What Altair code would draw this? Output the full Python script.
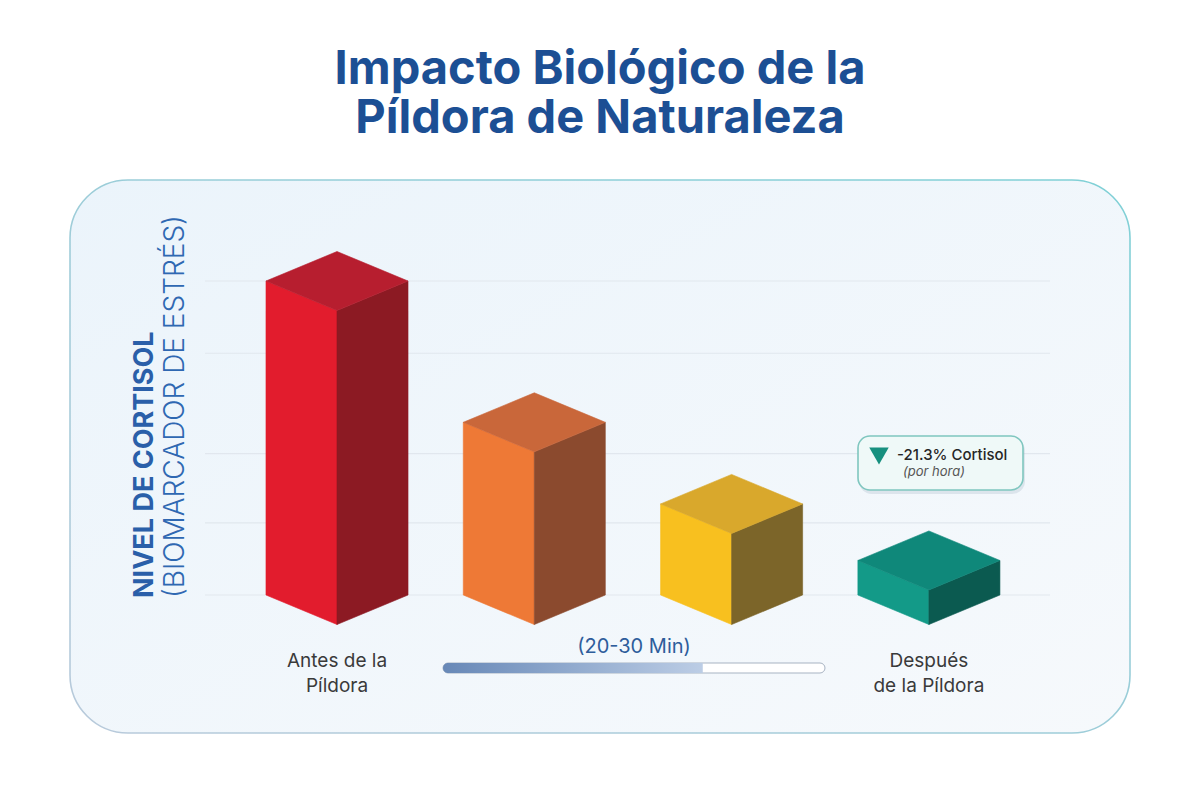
import altair as alt
import pandas as pd

# --- data -------------------------------------------------------------
stages = ["Antes de la Píldora", "10 min", "20 min", "Después de la Píldora"]
cortisol = [100, 55, 29, 11]                     # relative cortisol level
stage_labels = ["Antes de la\nPíldora", "", "", "Después\nde la Píldora"]
front_colors = ["#e21c2d", "#ee7936", "#f8c01f", "#139a88"]
top_colors = ["#b71e2f", "#c9673a", "#d9a82c", "#0f887a"]
side_colors = ["#8c1a23", "#8b4a2e", "#7c6529", "#0b5a50"]
grid_levels = [0, 23, 45, 77, 100]
change_pct = -21.3
window_label = "(20-30 Min)"
progress = 0.68

# --- layout -----------------------------------------------------------
W, H = 1060, 553                   # the rounded panel is the plot area
X_DOMAIN = [-1.3533, 4.0193]       # stage index
Y_DOMAIN = [-43.95, 132.17]        # cortisol units
HALF = 0.36                        # half width of a box (stage units)
DEPTH = 9.4                        # drop of the isometric top (cortisol units)

FONT = "Inter"

xs = alt.Scale(domain=X_DOMAIN, nice=False, zero=False)
ys = alt.Scale(domain=Y_DOMAIN, nice=False, zero=False)

# three faces per box: front, right side and top
rows = []
for i, (v, fc, tc, sc) in enumerate(zip(cortisol, front_colors, top_colors, side_colors)):
    rows += [
        dict(face=f"{i}a", x=i - HALF, top=v, bottom=0, color=fc),
        dict(face=f"{i}a", x=i, top=v - DEPTH, bottom=-DEPTH, color=fc),
        dict(face=f"{i}b", x=i, top=v - DEPTH, bottom=-DEPTH, color=sc),
        dict(face=f"{i}b", x=i + HALF, top=v, bottom=0, color=sc),
        dict(face=f"{i}c", x=i - HALF, top=v, bottom=v, color=tc),
        dict(face=f"{i}c", x=i, top=v + DEPTH, bottom=v - DEPTH, color=tc),
        dict(face=f"{i}c", x=i + HALF, top=v, bottom=v, color=tc),
    ]
faces = pd.DataFrame(rows)
grid = pd.DataFrame({"level": grid_levels})
labels = pd.DataFrame({"x": list(range(len(stages))), "label": stage_labels})
one = pd.DataFrame({"k": [0]})

# plain white ground under the rounded panel
ground = alt.Chart(one).mark_rect(fill="#ffffff").encode(
    x=alt.value(-3), x2=alt.value(W + 3), y=alt.value(-3), y2=alt.value(H + 3))

# rounded panel: a soft fill and a teal outline
panel_fill = alt.Chart(one).mark_rect(
    cornerRadius=58,
    fill=alt.Gradient(
        gradient="linear", x1=0, y1=0, x2=1, y2=1,
        stops=[alt.GradientStop(color="#ebf4fb", offset=0),
               alt.GradientStop(color="#f6f9fc", offset=1)],
    ),
).encode(x=alt.value(0), x2=alt.value(W), y=alt.value(0), y2=alt.value(H))
panel_edge = alt.Chart(one).mark_rect(
    cornerRadius=58, fill="transparent", strokeWidth=1.6,
    stroke=alt.Gradient(
        gradient="linear", x1=1, y1=0, x2=0, y2=1,
        stops=[alt.GradientStop(color="#7fd0d6", offset=0),
               alt.GradientStop(color="#b9cadb", offset=1)],
    ),
).encode(x=alt.value(0), x2=alt.value(W), y=alt.value(0), y2=alt.value(H))

gridlines = alt.Chart(grid).mark_rule(color="#e1e7ee", strokeWidth=1.2).encode(
    y=alt.Y("level:Q", scale=ys, axis=None),
    x=alt.value(135), x2=alt.value(980),
)

boxes = alt.Chart(faces).mark_area(orient="vertical", strokeWidth=0.6).encode(
    x=alt.X("x:Q", scale=xs, axis=None),
    y=alt.Y("top:Q", scale=ys, axis=None, stack=None),
    y2="bottom:Q",
    color=alt.Color("color:N", scale=None),
    stroke=alt.Stroke("color:N", scale=None),
    detail="face:N",
)

stage_text = alt.Chart(labels).mark_text(
    font=FONT, fontSize=19, color="#3a3a3a", lineBreak="\n", lineHeight=25,
    baseline="top", align="center",
).encode(x=alt.X("x:Q", scale=xs, axis=None), y=alt.value(472), text="label:N")

y_title_bold = alt.Chart(one).mark_text(
    text="NIVEL DE CORTISOL", font=FONT, fontSize=27, fontWeight="bold",
    color="#2a5fa9", angle=270, align="left", baseline="middle",
).encode(x=alt.value(75), y=alt.value(418))

y_title_light = alt.Chart(one).mark_text(
    text="(BIOMARCADOR DE ESTRÉS)", font=FONT, fontSize=28, fontWeight=300,
    color="#2f68b2", angle=270, align="left", baseline="middle",
).encode(x=alt.value(106), y=alt.value(418))

# time window bar
bar_x0, bar_x1 = 373, 755
track = alt.Chart(one).mark_rect(
    cornerRadius=5, fill="#ffffff", stroke="#a7b3c2", strokeWidth=1,
).encode(x=alt.value(bar_x0), x2=alt.value(bar_x1), y=alt.value(483), y2=alt.value(493))
fill_bar = alt.Chart(one).mark_rect(
    cornerRadiusTopLeft=5, cornerRadiusBottomLeft=5,
    fill=alt.Gradient(
        gradient="linear", x1=0, y1=0, x2=1, y2=0,
        stops=[alt.GradientStop(color="#6788b7", offset=0),
               alt.GradientStop(color="#bccde5", offset=1)],
    ),
).encode(
    x=alt.value(bar_x0), x2=alt.value(bar_x0 + progress * (bar_x1 - bar_x0)),
    y=alt.value(483), y2=alt.value(493),
)
window_text = alt.Chart(one).mark_text(
    text=window_label, font=FONT, fontSize=20, color="#2e5d9b",
    align="center", baseline="middle",
).encode(x=alt.value(564), y=alt.value(467))

# callout with the hourly change
shadow = alt.Chart(one).mark_rect(cornerRadius=13, fill="#8fa6b4", opacity=0.22).encode(
    x=alt.value(789), x2=alt.value(955), y=alt.value(258), y2=alt.value(314))
callout = alt.Chart(one).mark_rect(
    cornerRadius=12, fill="#eff9f8", stroke="#7fc6bf", strokeWidth=1.6,
).encode(x=alt.value(788), x2=alt.value(953), y=alt.value(256), y2=alt.value(310))
arrow = alt.Chart(one).mark_point(
    shape="triangle-down", filled=True, size=380, color="#17907f", opacity=1,
).encode(x=alt.value(809), y=alt.value(276))
change_text = alt.Chart(one).mark_text(
    text=f"{change_pct:.1f}% Cortisol", font=FONT, fontSize=15, fontWeight=500,
    color="#262626", align="left", baseline="middle",
).encode(x=alt.value(827), y=alt.value(275))
per_hour = alt.Chart(one).mark_text(
    text="(por hora)", font=FONT, fontSize=13, fontStyle="italic",
    color="#555555", align="left", baseline="middle",
).encode(x=alt.value(833), y=alt.value(292))

chart = alt.layer(
    ground, panel_fill, gridlines, boxes, stage_text, y_title_bold, y_title_light,
    track, fill_bar, window_text, shadow, callout, arrow, change_text, per_hour,
    panel_edge,
).properties(
    width=W, height=H,
    autosize="none",
    padding={"left": 70, "top": 180, "right": 70, "bottom": 67},
    title=alt.TitleParams(
        text=["Impacto Biológico de la", "Píldora de Naturaleza"],
        font=FONT, fontSize=47, fontWeight="bold", color="#1c4f94",
        anchor="middle", lineHeight=49, offset=34,
    ),
).configure_view(
    stroke="transparent", strokeOpacity=0, strokeWidth=0, fill="transparent",
).configure(background="#ffffff")

chart.save("out.html", embed_options={"renderer": "svg", "actions": False})
